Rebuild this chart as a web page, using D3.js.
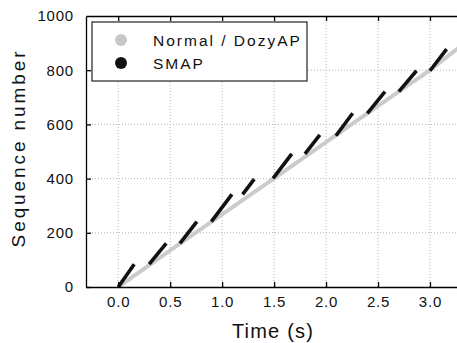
<!DOCTYPE html>
<html>
<head>
<meta charset="utf-8">
<script src="https://cdn.jsdelivr.net/npm/d3@7"></script>
<style>
  body { margin: 0; background: #fff; }
  svg { display: block; font-family: "Liberation Sans", Arial, sans-serif; }
  .grid line { stroke: #b4b4b4; stroke-width: 1; stroke-dasharray: 1,2; }
  .axis path, .axis line { stroke: #000; stroke-width: 1.3; }
  .axis text { font-size: 15px; letter-spacing: 0.8px; fill: #111; }
</style>
</head>
<body>
<div class="chart"></div>
<script>
// Normal / DozyAP: time (s) and sequence number
const normalTime = [0, 0.5, 1.0, 1.5, 2.0, 2.5, 3.0, 3.3];
const normalSeq  = [0, 135, 268, 401, 535, 668, 800, 890];

// SMAP bursts
const burstStartT   = [0, 0.298, 0.594, 0.896, 1.197, 1.49, 1.797, 2.095, 2.397, 2.70, 3.0];
const burstEndT     = [0.154, 0.462, 0.757, 1.094, 1.309, 1.67, 1.94, 2.256, 2.567, 2.87, 3.16];
const burstStartSeq = [0, 84, 161, 241, 342, 401, 491, 558, 641, 721, 798];
const burstEndSeq   = [84, 161, 241, 342, 398, 491, 561, 641, 721, 798, 878];

const xTicks = [0, 0.5, 1.0, 1.5, 2.0, 2.5, 3.0];
const yTicks = [0, 200, 400, 600, 800, 1000];
const legendLabels = ['Normal / DozyAP', 'SMAP'];
const legendColors = ['#c8c8c8', '#111111'];

const W = 457, H = 343;
const box = ({left: 86, top: 16, right: 457, bottom: 287});

const svg = d3.select('.chart').append('svg')
    .attr('width', W)
    .attr('height', H);

const xScale = d3.scaleLinear()
    .domain([-0.31, 3.26])
    .range([box.left, box.right]);

const yScale = d3.scaleLinear()
    .domain([0, 1000])
    .range([box.bottom, box.top]);

svg.append('clipPath').attr('id', 'plot')
  .append('rect')
    .attr('x', box.left).attr('y', box.top)
    .attr('width', box.right - box.left).attr('height', box.bottom - box.top);

// grid
svg.append('g').attr('class', 'grid')
  .selectAll('line')
  .data(xTicks)
  .enter().append('line')
    .attr('x1', d => xScale(d)).attr('x2', d => xScale(d))
    .attr('y1', box.top).attr('y2', box.bottom);

svg.append('g').attr('class', 'grid')
  .selectAll('line')
  .data(yTicks.slice(1, -1))
  .enter().append('line')
    .attr('x1', box.left).attr('x2', box.right)
    .attr('y1', d => yScale(d)).attr('y2', d => yScale(d));

const plot = svg.append('g').attr('clip-path', 'url(#plot)');

const normalLine = d3.line()
    .x((d, i) => xScale(normalTime[i]))
    .y(d => yScale(d));

plot.append('path')
    .datum(normalSeq)
    .attr('d', normalLine)
    .attr('fill', 'none')
    .attr('stroke', '#cbcbcb')
    .attr('stroke-width', 4);

plot.selectAll('.burst')
    .data(burstStartT)
    .enter().append('line')
    .attr('class', 'burst')
    .attr('x1', d => xScale(d))
    .attr('y1', (d, i) => yScale(burstStartSeq[i]))
    .attr('x2', (d, i) => xScale(burstEndT[i]))
    .attr('y2', (d, i) => yScale(burstEndSeq[i]))
    .attr('stroke', '#111')
    .attr('stroke-width', 3.6);

// axes
const xAxis = d3.axisBottom(xScale)
    .tickValues(xTicks)
    .tickFormat(d3.format('.1f'))
    .tickSize(-5)
    .tickSizeOuter(0)
    .tickPadding(9);

const xAxisTop = d3.axisTop(xScale)
    .tickValues(xTicks)
    .tickFormat('')
    .tickSize(-5)
    .tickSizeOuter(0);

const yAxis = d3.axisLeft(yScale)
    .tickValues(yTicks)
    .tickFormat(d3.format('d'))
    .tickSize(-5)
    .tickSizeOuter(0)
    .tickPadding(12);

svg.append('g')
    .attr('class', 'axis x-axis')
    .attr('transform', `translate(0, ${box.bottom})`)
    .call(xAxis);

svg.append('g')
    .attr('class', 'axis x-axis-top')
    .attr('transform', `translate(0, ${box.top})`)
    .call(xAxisTop);

svg.append('g')
    .attr('class', 'axis y-axis')
    .attr('transform', `translate(${box.left}, 0)`)
    .call(yAxis);

svg.selectAll('.y-axis .tick').filter(d => d === 1000).select('line').remove();

// legend
const legend = svg.append('g');
legend.append('rect')
    .attr('x', 92).attr('y', 22)
    .attr('width', 215).attr('height', 59)
    .attr('fill', '#fff')
    .attr('stroke', '#222')
    .attr('stroke-width', 1.2);

legend.selectAll('circle')
    .data(legendLabels)
    .enter().append('circle')
    .attr('cx', 121)
    .attr('cy', (d, i) => 40 + i * 23)
    .attr('r', 6)
    .attr('fill', (d, i) => legendColors[i]);

legend.selectAll('text')
    .data(legendLabels)
    .enter().append('text')
    .attr('x', 153)
    .attr('y', (d, i) => 45.5 + i * 23)
    .attr('font-size', 15.5)
    .attr('letter-spacing', 2)
    .attr('fill', '#111')
    .text(d => d);

// axis titles
svg.append('text')
    .attr('x', 273)
    .attr('y', 337.5)
    .attr('text-anchor', 'middle')
    .attr('font-size', 20)
    .attr('letter-spacing', 1.2)
    .attr('fill', '#111')
    .text('Time (s)');

svg.append('text')
    .attr('transform', 'translate(25, 148) rotate(-90)')
    .attr('text-anchor', 'middle')
    .attr('font-size', 19)
    .attr('letter-spacing', 2.9)
    .attr('fill', '#111')
    .text('Sequence number');
</script>
</body>
</html>
